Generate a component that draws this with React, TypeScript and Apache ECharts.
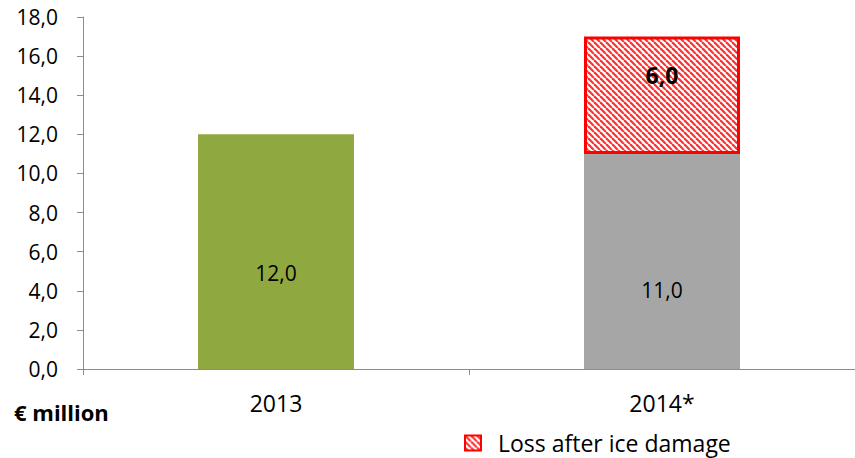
import React, { useEffect, useRef } from "react";
import * as echarts from "echarts";

const categories = ["2013", "2014*"];
const value2013 = [12.0, "-"];
const value2014 = ["-", 11.0];
const lossValues = ["-", 6.0];
const yMin = 0;
const yMax = 18;
const yInterval = 2;
const unitLabel = "€ million";
const lossName = "Loss after ice damage";

const FONT = "'Open Sans', Lato, sans-serif";

function makeHatch(): HTMLCanvasElement {
  const c = document.createElement("canvas");
  const s = 6;
  c.width = s;
  c.height = s;
  const ctx = c.getContext("2d")!;
  ctx.fillStyle = "#ffffff";
  ctx.fillRect(0, 0, s, s);
  ctx.strokeStyle = "#ff3030";
  ctx.lineWidth = 2.2;
  for (const o of [-s, 0, s]) {
    ctx.beginPath();
    ctx.moveTo(o, 0);
    ctx.lineTo(o + s, s);
    ctx.stroke();
  }
  return c;
}

const fmt = (v: number) => v.toFixed(1).replace(".", ",");

export default function App() {
  const ref = useRef<HTMLDivElement>(null);
  useEffect(() => {
    if (!ref.current) return;
    const chart = echarts.init(ref.current, undefined, { renderer: "svg" });
    const hatch = { image: makeHatch(), repeat: "repeat" } as any;
    chart.setOption({
      animation: false,
      backgroundColor: "#ffffff",
      textStyle: { fontFamily: FONT },
      grid: { left: 83, width: 778, top: 17, bottom: 89, containLabel: false },
      legend: {
        data: [lossName],
        left: 464,
        top: 430,
        padding: 0,
        itemWidth: 16,
        itemHeight: 15,
        icon: "rect",
        itemStyle: { color: hatch, borderColor: "#ff0000", borderWidth: 2 },
        textStyle: { fontSize: 23, lineHeight: 26, color: "#000", fontFamily: FONT, padding: [0, 0, 0, 12] },
      },
      xAxis: {
        type: "category",
        data: categories,
        axisLine: { lineStyle: { color: "#8c8c8c", width: 1 } },
        axisTick: { show: true, alignWithLabel: false, length: 6, lineStyle: { color: "#8c8c8c" } },
        axisLabel: { fontSize: 23, color: "#000", margin: 22, fontFamily: FONT },
      },
      yAxis: {
        type: "value",
        min: yMin,
        max: yMax,
        interval: yInterval,
        splitLine: { show: false },
        axisLine: { show: true, lineStyle: { color: "#8c8c8c", width: 1 } },
        axisTick: { show: true, length: 6, lineStyle: { color: "#8c8c8c" } },
        axisLabel: { fontSize: 21, color: "#000", margin: 25, fontFamily: FONT, formatter: (v: number) => fmt(v) },
      },
      series: [
        {
          name: "2013",
          type: "bar",
          stack: "total",
          barWidth: 156,
          data: value2013,
          itemStyle: { color: "#90a840" },
          label: {
            show: true,
            position: "inside",
            offset: [0, 21],
            fontSize: 21,
            color: "#000",
            fontFamily: FONT,
            formatter: (p: any) => fmt(p.value),
          },
        },
        {
          name: "2014",
          type: "bar",
          stack: "total",
          barWidth: 156,
          data: value2014,
          itemStyle: { color: "#a6a6a6" },
          label: {
            show: true,
            position: "inside",
            offset: [0, 29],
            fontSize: 21,
            color: "#000",
            fontFamily: FONT,
            formatter: (p: any) => fmt(p.value),
          },
        },
        {
          name: lossName,
          type: "bar",
          stack: "total",
          barWidth: 156,
          data: lossValues,
          itemStyle: { color: hatch, borderColor: "#ff0000", borderWidth: 3 },
          label: {
            show: true,
            position: "inside",
            offset: [0, -20],
            fontSize: 23,
            fontWeight: "bold",
            color: "#000",
            fontFamily: FONT,
            formatter: (p: any) => fmt(p.value),
          },
        },
      ],
      graphic: [
        {
          type: "text",
          left: 14,
          top: 401,
          style: { text: unitLabel, fontSize: 22, fontWeight: "bold", fill: "#000", fontFamily: FONT },
        },
      ],
    });
    return () => chart.dispose();
  }, []);
  return <div ref={ref} style={{ width: 855, height: 458, position: "fixed", left: 0, top: 0 }} />;
}
